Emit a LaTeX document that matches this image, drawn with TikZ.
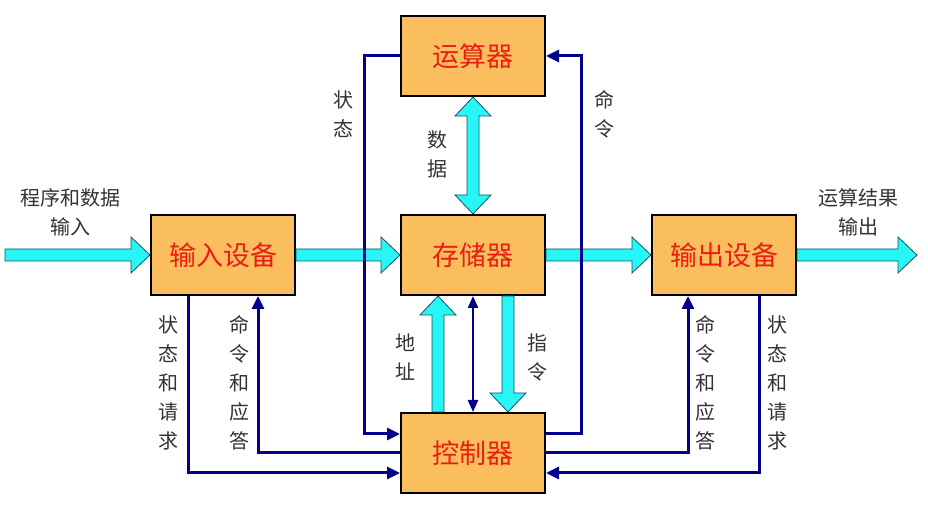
\documentclass[tikz,border=0pt]{standalone}
\usepackage{fontspec}
\newfontfamily\cjk{Noto Sans CJK SC}
\usepackage{tikz}
\usetikzlibrary{arrows.meta,positioning,calc}
\definecolor{boxfill}{RGB}{250,190,95}
\definecolor{boxtext}{RGB}{235,30,20}
\definecolor{busfill}{RGB}{40,245,245}
\definecolor{busline}{RGB}{20,80,100}
\definecolor{ctlnavy}{RGB}{0,0,140}
\definecolor{lbltext}{RGB}{50,50,50}

\begin{document}
\begin{tikzpicture}[x=1pt,y=1pt,
    box/.style={draw,line width=2pt,fill=boxfill,minimum width=144pt,
                minimum height=80pt,font=\cjk\fontsize{27}{30}\selectfont,
                text=boxtext},
    lbl/.style={font=\cjk\fontsize{20}{29}\selectfont,text=lbltext,
                align=center,inner sep=0pt},
    sig/.style={ctlnavy,line width=3pt,-{Triangle[length=13pt,width=12pt]}},
    fat/.style={fill=busfill,draw=busline,line width=0.8pt,to path={
        let \p1=($(\tikztotarget)-(\tikztostart)$),
            \n1={veclen(\x1,\y1)},\n2={atan2(\y1,\x1)},\n3={\n1-19}
        in {[shift={(\tikztostart)},rotate=\n2]
          (0,-6) -- (\n3,-6) -- (\n3,-18) -- (\n1,0) -- (\n3,18)
          -- (\n3,6) -- (0,6) -- cycle}}},
    fatboth/.style={fill=busfill,draw=busline,line width=0.8pt,to path={
        let \p1=($(\tikztotarget)-(\tikztostart)$),
            \n1={veclen(\x1,\y1)},\n2={atan2(\y1,\x1)},\n3={\n1-19}
        in {[shift={(\tikztostart)},rotate=\n2]
          (0,0) -- (19,-18) -- (19,-6) -- (\n3,-6) -- (\n3,-18) -- (\n1,0)
          -- (\n3,18) -- (\n3,6) -- (19,6) -- (19,18) -- cycle}}},
  ]
  \useasboundingbox (0,0) rectangle (928,508);

  \node[box] (mem) at (473,253) {存储器};
  \node[box,above=117pt of mem] (alu) {运算器};
  \node[box,below=116pt of mem] (ctl) {控制器};
  \node[box,left=104pt of mem] (inp) {输入设备};
  \node[box,right=105pt of mem] (outp) {输出设备};

  \coordinate (src) at (5,253);
  \coordinate (dst) at (917,253);

  \draw[fat] (src) to (inp.west);
  \draw[fat] (inp.east) to (mem.west);
  \draw[fat] (mem.east) to (outp.west);
  \draw[fat] (outp.east) to (dst);
  \draw[fatboth] (alu.south) to (mem.north);
  \draw[fat] ([xshift=-35pt]ctl.north) to ([xshift=-35pt]mem.south);
  \draw[fat] ([xshift=35pt]mem.south) to ([xshift=35pt]ctl.north);
  \draw[ctlnavy,line width=2.4pt,
    {Triangle[length=12pt,width=10pt]}-{Triangle[length=12pt,width=10pt]}]
    (mem.south) -- (ctl.north);

  \draw[sig] (alu.west) -- ++(-36,0) |- ([yshift=19pt]ctl.west);
  \draw[sig] ([yshift=19pt]ctl.east) -- ++(35,0) |- (alu.east);
  \draw[sig] ([xshift=-35pt]inp.south) |- ([yshift=-20pt]ctl.west);
  \draw[sig] (ctl.west) -| ([xshift=35pt]inp.south);
  \draw[sig] (ctl.east) -| ([xshift=-36pt]outp.south);
  \draw[sig] ([xshift=35pt]outp.south) |- ([yshift=-20pt]ctl.east);

  \node[lbl] (lin) at (70,296) {程序和数据\\输入};
  \node[lbl] (lout) at (858,296) {运算结果\\输出};
  \node[lbl] (lst) at (343,394) {状\\态};
  \node[lbl] (lcmd) at (604,394) {命\\令};
  \node[lbl] (ldata) at (437,354) {数\\据};
  \node[lbl] (laddr) at (405,151) {地\\址};
  \node[lbl] (linst) at (537,151) {指\\令};
  \node[lbl] (lreq1) at (168,125) {状\\态\\和\\请\\求};
  \node[lbl] (lack1) at (239,125) {命\\令\\和\\应\\答};
  \node[lbl] (lack2) at (705,125) {命\\令\\和\\应\\答};
  \node[lbl] (lreq2) at (777,125) {状\\态\\和\\请\\求};
\end{tikzpicture}
\end{document}
